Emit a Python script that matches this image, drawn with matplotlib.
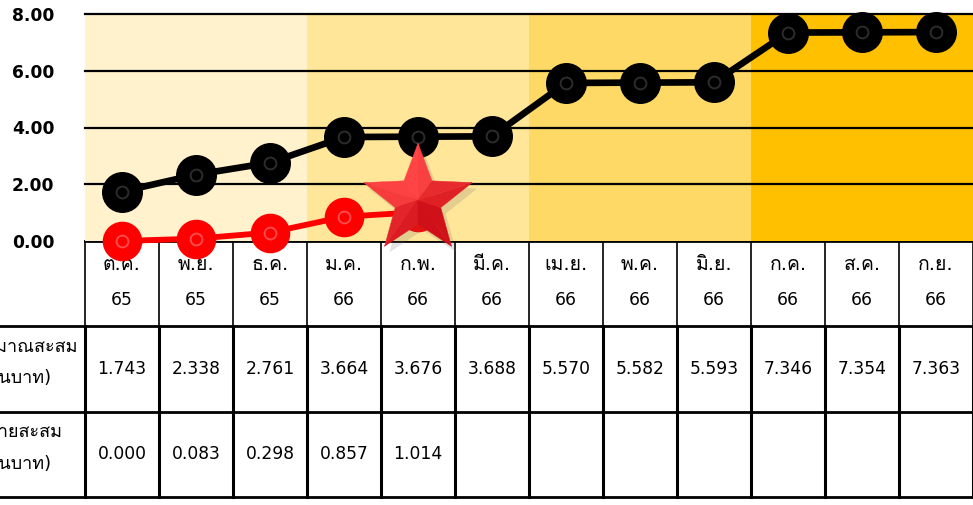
import numpy as np
import matplotlib
matplotlib.use("Agg")
import matplotlib.pyplot as plt
from matplotlib.patches import Polygon
from matplotlib.transforms import Affine2D, ScaledTranslation
from matplotlib.colors import to_rgb

# digits from DejaVu, Thai letters fall back to Loma
plt.rcParams['font.family'] = ['DejaVu Sans', 'Loma']

months = ["ต.ค.", "พ.ย.", "ธ.ค.", "ม.ค.", "ก.พ.", "มี.ค.",
          "เม.ย.", "พ.ค.", "มิ.ย.", "ก.ค.", "ส.ค.", "ก.ย."]
years = ["65", "65", "65", "66", "66", "66", "66", "66", "66", "66", "66", "66"]
budget = [1.743, 2.338, 2.761, 3.664, 3.676, 3.688,
          5.570, 5.582, 5.593, 7.346, 7.354, 7.363]
spent = [0.000, 0.083, 0.298, 0.857, 1.014]
row_labels = [("งบประมาณสะสม", "(ล้านบาท)"), ("เบิกจ่ายสะสม", "(ล้านบาท)")]
y_ticks = [0, 2, 4, 6, 8]
quarter_colors = ['#FFF2CC', '#FFE699', '#FFD966', '#FFC000']

W, H = 973, 505
fig = plt.figure(figsize=(W / 100, H / 100), dpi=100)


def fx(px):
    return px / W


def fy(py):
    return 1 - py / H


n = len(months)
x = np.arange(n)

# ---- table under the chart
tab = fig.add_axes([fx(85), fy(497), fx(973) - fx(85), fy(241) - fy(497)])
tab.set_xlim(-0.5, n - 0.5)
tab.set_ylim(3, 0)
tab.axis('off')

for i in range(n + 1):
    tab.plot([i - 0.5, i - 0.5], [0, 1], color='black', lw=1.2, clip_on=False)
    tab.plot([i - 0.5, i - 0.5], [1, 3], color='black', lw=2.2, clip_on=False)
left_ext = -0.5 - 90 / 74
tab.plot([-0.5, n - 0.5], [0, 0], color='black', lw=2, clip_on=False)
for yy in (1, 2, 3):
    tab.plot([left_ext, n - 0.5], [yy, yy], color='black', lw=2, clip_on=False)

for i in range(n):
    tab.text(i, 0.27, months[i], ha='center', va='center', fontsize=14)
    tab.text(i, 0.69, years[i], ha='center', va='center', fontsize=12.3)
    tab.text(i, 1.5, "%.3f" % budget[i], ha='center', va='center', fontsize=12.3)
for i, v in enumerate(spent):
    tab.text(i, 2.5, "%.3f" % v, ha='center', va='center', fontsize=12.3)

# row titles, cut by the left edge as in the original
lab_x = -0.5 - 74 / 74
for r, (l1, l2) in enumerate(row_labels):
    tab.text(lab_x, 1.5 + r - 0.26, l1, ha='center', va='center', fontsize=13, clip_on=False)
    tab.text(lab_x, 1.5 + r + 0.09, l2, ha='center', va='center', fontsize=13, clip_on=False)

# ---- chart
ax = fig.add_axes([fx(85), fy(241), fx(973) - fx(85), fy(14) - fy(241)])
ax.set_xlim(-0.5, n - 0.5)
ax.set_ylim(0, 8)
for q in range(4):
    ax.axvspan(3 * q - 0.5, 3 * q + 2.5, color=quarter_colors[q], lw=0, zorder=0)
for t in y_ticks[1:]:
    ax.axhline(t, color='black', lw=1.6, clip_on=False, zorder=1)
ax.set_yticks(y_ticks)
ax.set_yticklabels(["%.2f" % t for t in y_ticks], fontsize=12.3, fontweight='bold')
ax.tick_params(axis='y', length=0, pad=22)
ax.set_xticks([])
for s in ax.spines.values():
    s.set_visible(False)

ax.plot(x, budget, color='black', lw=4.8, marker='o', ms=28.5, mfc='black', mec='black',
        clip_on=False, zorder=5)
ax.plot(x, budget, ls='none', marker='o', ms=8.5, mfc='none', mec='#2c2c2c', mew=1.4,
        clip_on=False, zorder=6)
xs = x[:len(spent)]
ax.plot(xs, spent, color='#FF0000', lw=4.2, marker='o', ms=27.5, mfc='#FF0000', mec='#FF0000',
        clip_on=False, zorder=4)
ax.plot(xs, spent, ls='none', marker='o', ms=8.5, mfc='none', mec='#ff4a4a', mew=1.4,
        clip_on=False, zorder=4.5)

# ---- bevelled star on the last spent point
R, r = 57, 57 * 0.42
outer = [np.radians(90 + 72 * k) for k in range(5)]
inner = [np.radians(90 + 36 + 72 * k) for k in range(5)]
O = [(R * np.cos(a), R * np.sin(a)) for a in outer]
I = [(r * np.cos(a), r * np.sin(a)) for a in inner]
outline = []
for k in range(5):
    outline += [O[k], I[k]]

anchor = ScaledTranslation(xs[-1], spent[-1], ax.transData)
shadow_tr = Affine2D().translate(5, 6) + anchor
star_tr = Affine2D().translate(0, 12) + anchor
ax.add_patch(Polygon(outline, closed=True, fc='#666666', ec='none', alpha=0.18,
                     transform=shadow_tr, clip_on=False, zorder=9))

dark, light = np.array(to_rgb('#d01018')), np.array(to_rgb('#ff4646'))
light_dir = np.radians(120)
for k in range(5):
    for tri in ([(0, 0), I[k - 1], O[k]], [(0, 0), O[k], I[k]]):
        mx = (tri[1][0] + tri[2][0]) / 2
        my = (tri[1][1] + tri[2][1]) / 2
        f = (np.cos(np.arctan2(my, mx) - light_dir) + 1) / 2
        col = dark + (light - dark) * f
        ax.add_patch(Polygon(tri, closed=True, fc=col, ec=col, lw=0.3,
                             transform=star_tr, clip_on=False, zorder=10))

fig.savefig("out.png", dpi=100)
